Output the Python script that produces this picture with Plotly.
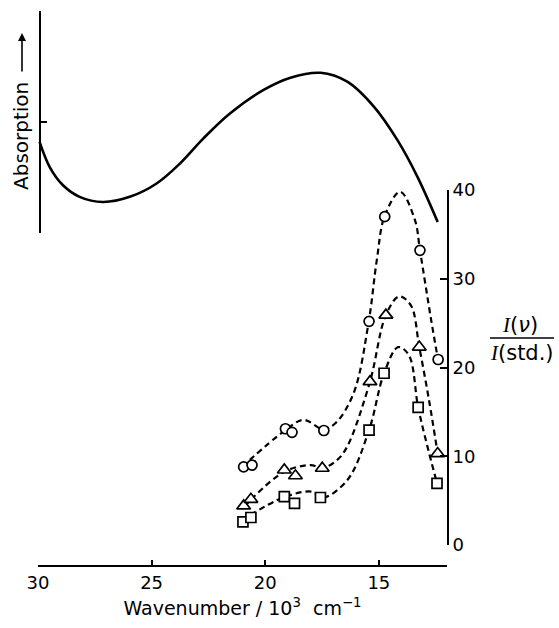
import plotly.graph_objects as go

# ---------------- data ----------------
# Absorption spectrum (arbitrary units, 0..1)
abs_wn = [29.93, 29.49, 28.90, 28.17, 27.14, 25.96, 24.78, 23.75, 22.72, 21.54,
          20.07, 18.89, 17.56, 16.39, 15.21, 14.18, 13.30, 12.41]
abs_val = [0.411, 0.299, 0.216, 0.164, 0.141, 0.164, 0.224, 0.314, 0.427, 0.540,
           0.645, 0.700, 0.722, 0.682, 0.569, 0.419, 0.254, 0.051]

# Measured points I(nu)/I(std.)
circ_wn = [20.95, 20.58, 19.11, 18.82, 17.42, 15.43, 14.74, 13.19, 12.39]
circ_val = [8.8, 9.0, 13.1, 12.7, 12.9, 25.2, 37.0, 33.2, 20.9]
tri_wn = [20.95, 20.63, 19.16, 18.67, 17.49, 15.39, 14.69, 13.22, 12.41]
tri_val = [4.4, 5.15, 8.45, 7.8, 8.65, 18.4, 25.9, 22.3, 10.3]
sq_wn = [20.98, 20.63, 19.16, 18.71, 17.57, 15.43, 14.77, 13.27, 12.44]
sq_val = [2.6, 3.1, 5.45, 4.7, 5.35, 12.95, 19.35, 15.5, 6.95]

# Smooth dashed guide curves
circ_fit_wn = [21.02, 19.11, 18.31, 17.45, 16.90, 16.11, 15.45, 15.09, 14.74, 14.06,
               13.41, 13.19, 12.70, 12.40]
circ_fit_val = [8.8, 12.95, 14.1, 13.05, 13.75, 17.1, 25.1, 32.1, 37.1, 39.8,
                36.6, 33.2, 25.4, 20.95]
tri_fit_wn = [20.93, 19.20, 18.00, 17.49, 16.83, 16.39, 15.39, 14.69, 14.11, 13.59,
              13.22, 12.79, 12.41]
tri_fit_val = [4.3, 8.2, 9.0, 8.65, 9.6, 11.1, 18.4, 25.9, 28.0, 27.0, 22.3, 16.3, 10.3]
sq_fit_wn = [21.02, 19.16, 17.93, 17.49, 16.39, 15.43, 14.77, 14.15, 13.68, 13.27,
             12.88, 12.44]
sq_fit_val = [2.8, 5.4, 6.0, 5.3, 7.3, 12.95, 19.35, 22.3, 21.4, 15.5, 11.3, 6.95]

x_ticks = [30, 25, 20, 15]
y2_ticks = [0, 10, 20, 30, 40]
abs_ticks = [0, 0.5, 1]

# ---------------- figure ----------------
FONT = "DejaVu Sans"
fig = go.Figure()

fig.add_trace(go.Scatter(x=abs_wn, y=abs_val, mode="lines", yaxis="y",
                         line=dict(color="black", width=2.6, shape="spline", smoothing=1.0),
                         hoverinfo="skip", showlegend=False))

DASH = "6px,4px"
for fx, fy in [(circ_fit_wn, circ_fit_val), (tri_fit_wn, tri_fit_val), (sq_fit_wn, sq_fit_val)]:
    fig.add_trace(go.Scatter(x=fx, y=fy, mode="lines", yaxis="y2",
                             line=dict(color="black", width=2.2, dash=DASH,
                                       shape="spline", smoothing=1.0),
                             hoverinfo="skip", showlegend=False))

for px, py, sym, sz in [(circ_wn, circ_val, "circle", 10),
                        (tri_wn, tri_val, "triangle-up", 12),
                        (sq_wn, sq_val, "square", 10)]:
    fig.add_trace(go.Scatter(x=px, y=py, mode="markers", yaxis="y2",
                             marker=dict(symbol=sym, size=sz, color="white",
                                         line=dict(color="black", width=1.7)),
                             cliponaxis=False, showlegend=False))

L, R, T, B = 38, 112, 11, 62
W, H = 559, 628
pw, ph = W - L - R, H - T - B

def px2paper_x(px):
    return (px - L) / pw

def py2paper_y(py):
    return (H - B - py) / ph

fig.update_layout(
    width=W, height=H,
    margin=dict(l=L, r=R, t=T, b=B, pad=0, autoexpand=False),
    paper_bgcolor="white", plot_bgcolor="rgba(0,0,0,0)",
    font=dict(family=FONT, size=18, color="black"),
    xaxis=dict(range=[30, 12], anchor="free", position=0, automargin=False,
               showline=True, linecolor="black", linewidth=2,
               ticks="inside", ticklen=5, tickwidth=1.8, tickcolor="black",
               tickvals=x_ticks, ticktext=[str(v) for v in x_ticks],
               showgrid=False, zeroline=False,
               tickfont=dict(family=FONT, size=18),
               title=dict(text="Wavenumber / 10<sup>3</sup>  cm<sup>−1</sup>",
                          font=dict(family=FONT, size=19), standoff=9)),
    yaxis=dict(range=[0, 1], domain=[py2paper_y(233.3), py2paper_y(11)],
               anchor="free", position=px2paper_x(40), side="left", automargin=False,
               showline=True, linecolor="black", linewidth=2,
               ticks="inside", ticklen=6, tickwidth=1.8, tickcolor="black",
               tickvals=abs_ticks, showticklabels=False,
               showgrid=False, zeroline=False),
    yaxis2=dict(range=[0, 40], domain=[py2paper_y(545), py2paper_y(190)],
                anchor="x", side="right", automargin=False,
                showline=True, linecolor="black", linewidth=2,
                ticks="inside", ticklen=7, tickwidth=1.8, tickcolor="black",
                tickvals=y2_ticks, ticktext=[str(v) for v in y2_ticks],
                tickfont=dict(family=FONT, size=18),
                showgrid=False, zeroline=False),
)

# Absorption label with arrow
fig.add_annotation(xref="paper", yref="paper", x=px2paper_x(21), y=py2paper_y(136),
                   text="Absorption", textangle=-90, showarrow=False,
                   font=dict(family=FONT, size=20), xanchor="center", yanchor="middle")
fig.add_annotation(xref="paper", yref="paper", x=px2paper_x(22), y=py2paper_y(33),
                   text="", showarrow=True, ax=0, ay=40, axref="pixel", ayref="pixel",
                   arrowhead=2, arrowsize=1, arrowwidth=1.6, arrowcolor="black")

# Right-hand axis title as a fraction
fig.add_annotation(xref="paper", yref="paper", x=px2paper_x(520), y=py2paper_y(325),
                   text='<span style="font-family:Liberation Serif"><i>I</i></span>(<i>ν</i>)',
                   showarrow=False, font=dict(family=FONT, size=21),
                   xanchor="center", yanchor="middle")
fig.add_annotation(xref="paper", yref="paper", x=px2paper_x(522), y=py2paper_y(353),
                   text='<span style="font-family:Liberation Serif"><i>I</i></span>(std.)',
                   showarrow=False, font=dict(family=FONT, size=21),
                   xanchor="center", yanchor="middle")
fig.add_shape(type="line", xref="paper", yref="paper",
              x0=px2paper_x(490), x1=px2paper_x(554),
              y0=py2paper_y(338), y1=py2paper_y(338),
              line=dict(color="black", width=1.6))

fig.write_html("out.html")
